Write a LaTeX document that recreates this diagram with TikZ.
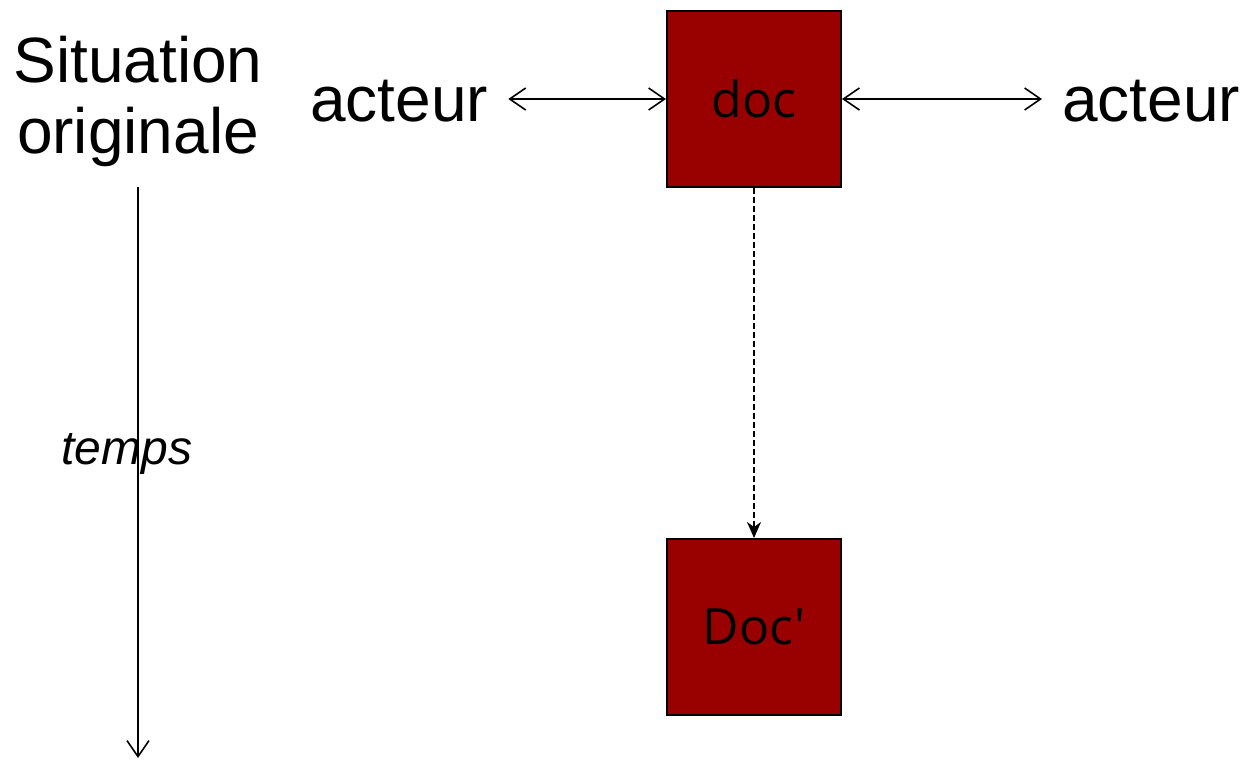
\documentclass[tikz,border=0pt]{standalone}
\usepackage{fontspec}
\setmainfont{Liberation Sans}
\newfontfamily\boxfont{Open Sans}
\usetikzlibrary{arrows.meta}
\definecolor{docred}{HTML}{990000}
\begin{document}
\begin{tikzpicture}[x=1pt,y=-1pt,
  docbox/.style={draw=black,line width=2pt,fill=docred,minimum width=174pt,minimum height=176pt,inner sep=0pt,font=\boxfont\fontsize{50}{56}\selectfont},
  bigtext/.style={font=\fontsize{64}{71}\selectfont,inner sep=0pt},
  conn/.style={line width=1.6pt}
]
\useasboundingbox (0,0) rectangle (1246,760);
\node[docbox] (doc) at (754,99) {doc};
\node[docbox] (docp) at (754,627) {Doc'};
\node[bigtext,anchor=west] (a1) at (310,101) {acteur};
\node[bigtext,anchor=west] (a2) at (1062,101) {acteur};
\node[bigtext,align=center,anchor=north] (sit) at (138,36) {Situation\\originale};
\coordinate (ttop) at (138,187);
\coordinate (tbot) at (138,758);
\path ([xshift=20pt]a1.east) coordinate (l1tmp);
\path ([xshift=-20pt]a2.west) coordinate (r1tmp);
\coordinate (l1) at (l1tmp |- doc.west);
\coordinate (r1) at (r1tmp |- doc.east);
\node[font=\itshape\fontsize{48}{56}\selectfont,inner sep=0pt] (temps) at (127,454) {temps};
\draw[conn,{Straight Barb[length=16pt,width=22pt]}-{Straight Barb[length=16pt,width=22pt]}] (l1) -- (doc.west);
\draw[conn,{Straight Barb[length=16pt,width=22pt]}-{Straight Barb[length=16pt,width=22pt]}] (doc.east) -- (r1);
\draw[conn,dashed,dash pattern=on 6pt off 3pt,-{Stealth[length=16pt,width=14pt,inset=5pt]}] (doc.south) -- (docp.north);
\draw[conn,-{Straight Barb[length=16pt,width=22pt]}] (ttop) -- (tbot);
\end{tikzpicture}
\end{document}
